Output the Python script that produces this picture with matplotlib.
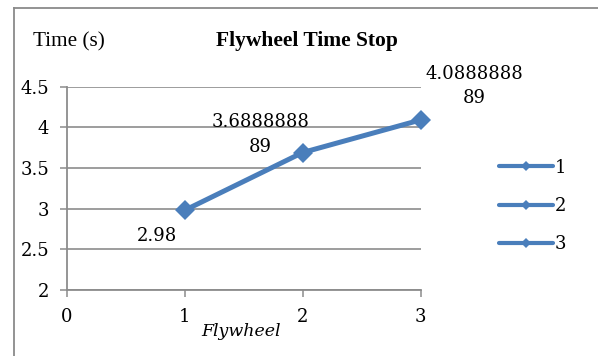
import matplotlib
matplotlib.use("Agg")
import matplotlib.pyplot as plt
from matplotlib.lines import Line2D

# Flywheel stop times
flywheel = [1, 2, 3]
stop_time = [2.98, 3.688888889, 4.088888889]
point_labels = ["2.98", "3.6888888\n89", "4.0888888\n89"]
legend_labels = ["1", "2", "3"]
x_ticks = [0, 1, 2, 3]
y_ticks = [2, 2.5, 3, 3.5, 4, 4.5]
y_tick_labels = ["2", "2.5", "3", "3.5", "4", "4.5"]

BLUE = "#4A7EBB"
GRID = "#8C8C8C"
NUM_FONT = "DejaVu Serif"

W, H = 598, 356
fig = plt.figure(figsize=(W / 100, H / 100), dpi=100)
fig.patch.set_facecolor("white")

# plot area in pixel coordinates
x0, x1, ytop, ybot = 67, 420.5, 86.5, 290
ax = fig.add_axes([x0 / W, 1 - ybot / H, (x1 - x0) / W, (ybot - ytop) / H])
ax.set_xlim(0, 3)
ax.set_ylim(2, 4.5)

ax.plot(flywheel, stop_time, color=BLUE, lw=3.6, marker="D", ms=10.5,
        mec=BLUE, mew=0, solid_capstyle="round", zorder=3, clip_on=False)

ax.set_yticks(y_ticks)
ax.set_yticklabels(y_tick_labels)
ax.set_xticks(x_ticks)
ax.set_xticklabels([str(t) for t in x_ticks])
for lab in ax.get_xticklabels() + ax.get_yticklabels():
    lab.set_fontfamily(NUM_FONT)
    lab.set_fontsize(13)
ax.tick_params(axis="y", length=5, width=1.1, color=GRID, pad=8)
ax.tick_params(axis="x", length=5, width=1.1, color=GRID, pad=8)

ax.yaxis.grid(True, color=GRID, lw=1.2)
ax.set_axisbelow(True)
for side in ("top", "right"):
    ax.spines[side].set_visible(False)
for side in ("left", "bottom"):
    ax.spines[side].set_color(GRID)
    ax.spines[side].set_linewidth(1.3)

# data labels
offsets = [(-28, 26), (-42, -18), (54, -34)]
for x, y, txt, (dx, dy) in zip(flywheel, stop_time, point_labels, offsets):
    ax.annotate(txt, (x, y), xytext=(dx * 0.72, -dy * 0.72), textcoords="offset points",
                ha="center", va="center", fontsize=13, family=NUM_FONT,
                linespacing=1.45, annotation_clip=False)

# titles
fig.text(307 / W, 1 - 41 / H, "Flywheel Time Stop", ha="center", va="center",
         fontsize=15.5, fontweight="bold", family="Liberation Serif")
fig.text(33 / W, 1 - 42 / H, "Time (s)", ha="left", va="center",
         fontsize=15.3, family="Liberation Serif")
fig.text(241 / W, 1 - 331 / H, "Flywheel", ha="center", va="center",
         fontsize=12.5, style="italic", family=NUM_FONT)

# legend
handles = [Line2D([], [], color=BLUE, lw=3, marker="D", ms=5.5, mew=0,
                  solid_capstyle="round") for _ in legend_labels]
leg = fig.legend(handles, legend_labels, loc="center left",
                 bbox_to_anchor=(490 / W, 1 - 206 / H), frameon=False,
                 prop={"family": NUM_FONT, "size": 13}, handlelength=3.0,
                 handletextpad=0.1, labelspacing=1.12, borderpad=0)

# outer chart border
fig.add_artist(Line2D([13.5 / W, 13.5 / W], [0, 1 - 8 / H], transform=fig.transFigure,
                      color="#8A8A8A", lw=1.3))
fig.add_artist(Line2D([13.5 / W, 1], [1 - 8 / H, 1 - 8 / H], transform=fig.transFigure,
                      color="#8A8A8A", lw=1.3))

fig.savefig("out.png", dpi=100)
